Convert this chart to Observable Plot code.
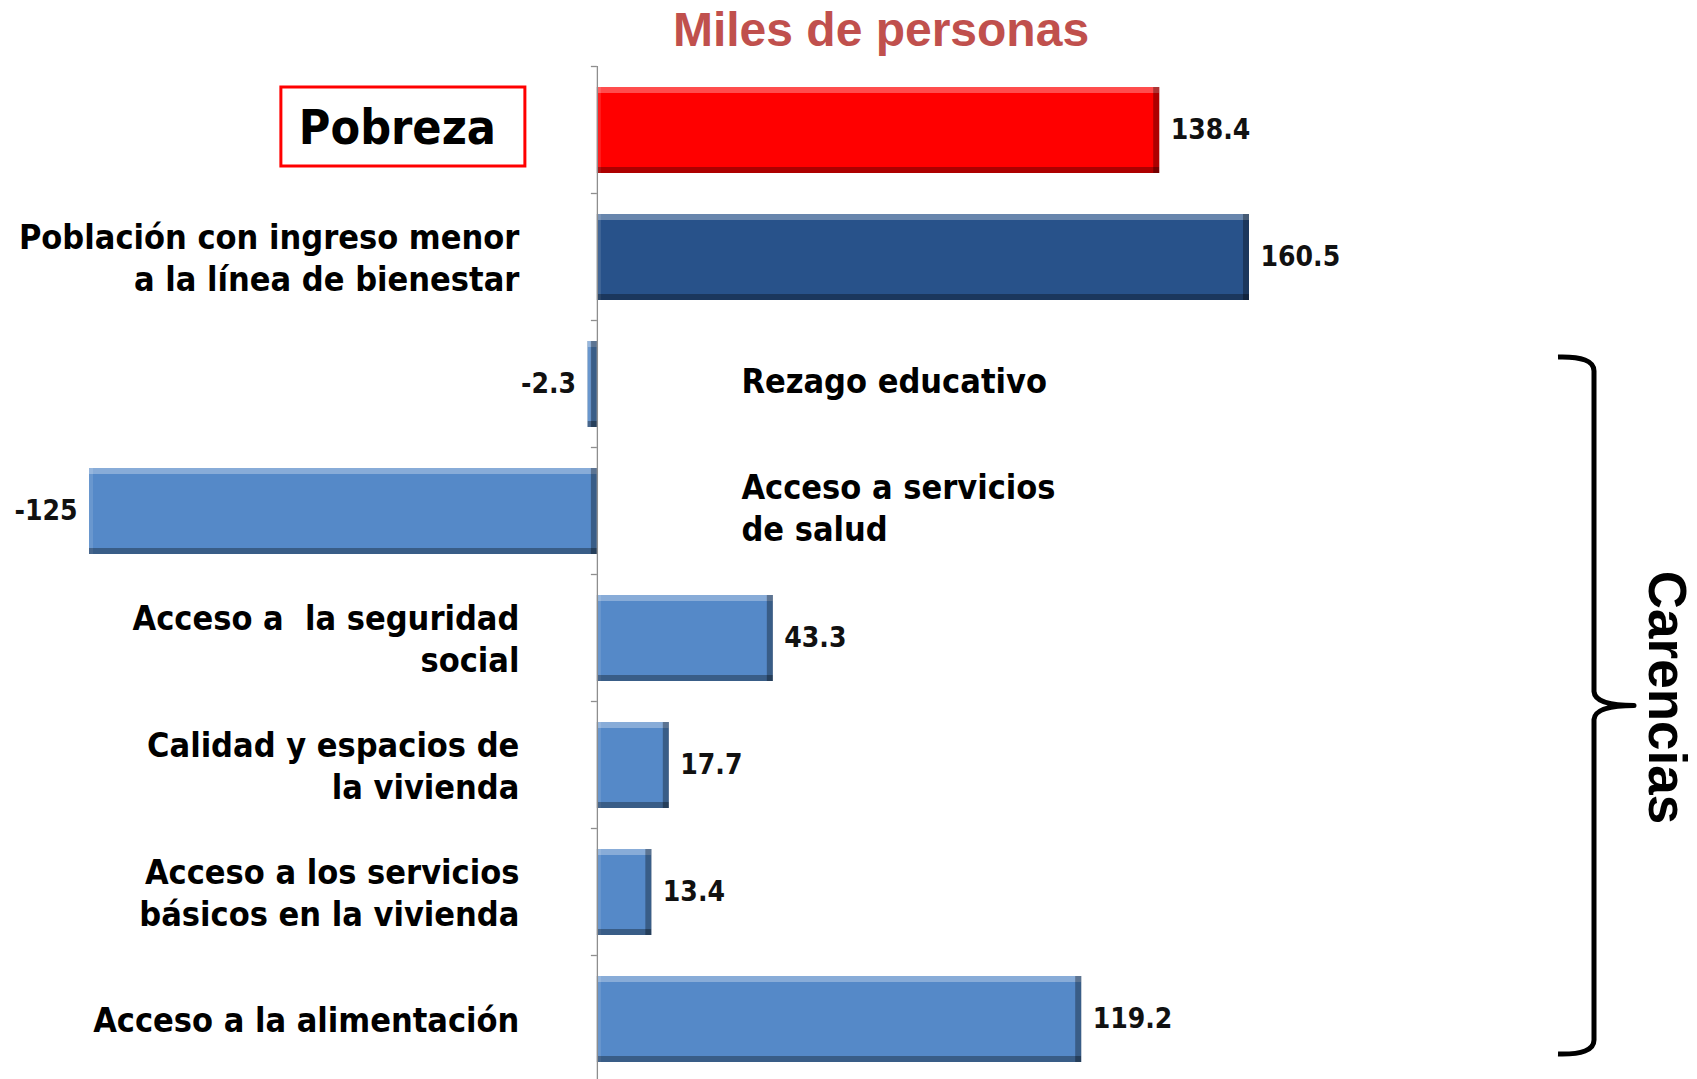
<!DOCTYPE html>
<html>
<head>
<meta charset="utf-8">
<script src="https://cdn.jsdelivr.net/npm/d3@7"></script>
<script src="https://cdn.jsdelivr.net/npm/@observablehq/plot@0.6"></script>
<style>
  html, body { margin: 0; padding: 0; background: #ffffff; overflow: hidden; }
  #chart { position: relative; width: 1697px; height: 1079px; }
  #title {
    position: absolute; left: 0; width: 1762px; top: 6px; margin: 0;
    text-align: center; font-family: "Liberation Sans", Arial, sans-serif;
    font-weight: bold; font-size: 48px; line-height: 48px; color: #c0504d;
  }
  #chart svg { position: absolute; left: 0; top: 0; }
</style>
</head>
<body>
<div id="chart"><div id="title"></div></div>
<script>
// ---- data ----
const titleText = "Miles de personas";
const bracketText = "Carencias";
const categories = [
  "Pobreza",
  "Población con ingreso menor\na la línea de bienestar",
  "Rezago educativo",
  "Acceso a servicios\nde salud",
  "Acceso a  la seguridad\nsocial",
  "Calidad y espacios de\nla vivienda",
  "Acceso a los servicios\nbásicos en la vivienda",
  "Acceso a la alimentación"
];
const values = [138.4, 160.5, -2.3, -125, 43.3, 17.7, 13.4, 119.2];
const valueLabels = ["138.4", "160.5", "-2.3", "-125", "43.3", "17.7", "13.4", "119.2"];
const groups = ["pobreza", "bienestar", "carencia", "carencia", "carencia", "carencia", "carencia", "carencia"];
const groupColors = {pobreza: "#ff0000", bienestar: "#28528a", carencia: "#5589c8"};
const bracketFrom = "Rezago educativo";
const bracketTo = "Acceso a la alimentación";

const data = categories.map((c, i) => ({cat: c, value: values[i], label: valueLabels[i], group: groups[i]}));
const positives = data.filter(d => d.value >= 0);
const negatives = data.filter(d => d.value < 0);

document.getElementById("title").textContent = titleText;

const labelFont = '"DejaVu Sans Condensed", "DejaVu Sans", sans-serif';
const W = 1697, H = 1084;

const plot = Plot.plot({
  width: W,
  height: H,
  marginTop: 66,
  marginBottom: 0,
  marginLeft: 89,
  marginRight: 448,
  style: {background: "transparent", fontFamily: labelFont, fontStretch: "condensed", overflow: "visible"},
  x: {domain: [d3.min(values), d3.max(values)], axis: null},
  y: {domain: categories, axis: null, paddingInner: 0.32, paddingOuter: 0.16},
  color: {domain: Object.keys(groupColors), range: Object.values(groupColors)},
  marks: [
    Plot.barX(data, {y: "cat", x: "value", fill: "group", className: "bars"}),
    Plot.ruleX([0], {stroke: "#8e8e8e", strokeWidth: 1.3}),
    // category labels for positive bars (left of axis)
    Plot.text(positives.filter(d => d.group !== "pobreza"), {
      y: "cat", x: 0, dx: -78, dy: -1, text: "cat", textAnchor: "end", lineAnchor: "middle",
      fontSize: 34, fontWeight: "bold", lineHeight: 1.23, fill: "#000", className: "catlbl"
    }),
    // category labels for negative bars (right of axis)
    Plot.text(negatives, {
      y: "cat", x: 0, dx: 144, dy: -5, text: "cat", textAnchor: "start", lineAnchor: "middle",
      fontSize: 34, fontWeight: "bold", lineHeight: 1.23, fill: "#000", className: "catlbl"
    }),
    // Pobreza highlighted label
    Plot.text(positives.filter(d => d.group === "pobreza"), {
      y: "cat", x: 0, dx: -200, dy: -2, text: "cat", textAnchor: "middle", lineAnchor: "middle",
      fontSize: 48, fontWeight: "bold", fill: "#000", className: "poblbl"
    }),
    // value labels
    Plot.text(positives, {
      y: "cat", x: "value", dx: 11, text: "label", textAnchor: "start", lineAnchor: "middle",
      fontSize: 28, fontWeight: "bold", fill: "#111"
    }),
    Plot.text(negatives, {
      y: "cat", x: "value", dx: -12, text: "label", textAnchor: "end", lineAnchor: "middle",
      fontSize: 28, fontWeight: "bold", fill: "#111"
    })
  ]
});

document.getElementById("chart").appendChild(plot);

const svg = d3.select(plot);
svg.selectAll(".catlbl text").style("white-space", "pre");

// bevel filter
svg.insert("defs", ":first-child").html(`
  <filter id="bevel" x="-2%" y="-2%" width="104%" height="104%" color-interpolation-filters="sRGB">
    <feOffset in="SourceAlpha" dx="0" dy="6" result="offD"/>
    <feComposite in="SourceAlpha" in2="offD" operator="out" result="topEdge"/>
    <feOffset in="SourceAlpha" dx="4" dy="0" result="offR"/>
    <feComposite in="SourceAlpha" in2="offR" operator="out" result="leftEdge"/>
    <feOffset in="SourceAlpha" dx="0" dy="-6" result="offU"/>
    <feComposite in="SourceAlpha" in2="offU" operator="out" result="bottomEdge"/>
    <feOffset in="SourceAlpha" dx="-6" dy="0" result="offL"/>
    <feComposite in="SourceAlpha" in2="offL" operator="out" result="rightEdge"/>
    <feFlood flood-color="#ffffff" flood-opacity="0.30" result="white"/>
    <feComposite in="white" in2="topEdge" operator="in" result="hiTop"/>
    <feFlood flood-color="#ffffff" flood-opacity="0.12" result="white2"/>
    <feComposite in="white2" in2="leftEdge" operator="in" result="hiLeft"/>
    <feFlood flood-color="#000000" flood-opacity="0.32" result="black"/>
    <feComposite in="black" in2="bottomEdge" operator="in" result="shBottom"/>
    <feComposite in="black" in2="rightEdge" operator="in" result="shRight"/>
    <feMerge>
      <feMergeNode in="SourceGraphic"/>
      <feMergeNode in="hiLeft"/>
      <feMergeNode in="hiTop"/>
      <feMergeNode in="shRight"/>
      <feMergeNode in="shBottom"/>
    </feMerge>
  </filter>`);
svg.selectAll(".bars rect").attr("filter", "url(#bevel)");

// axis ticks at band boundaries, from the y scale
const ys = plot.scale("y");
const xs = plot.scale("x");
const half = (ys.step - ys.bandwidth) / 2;
const x0 = xs.apply(0);
const bounds = categories.map(c => ys.apply(c) - half).concat([ys.apply(categories[categories.length - 1]) + ys.bandwidth + half]);
svg.append("g").selectAll("line").data(bounds).join("line")
  .attr("x1", x0 - 6).attr("x2", x0).attr("y1", d => d).attr("y2", d => d)
  .attr("stroke", "#8e8e8e").attr("stroke-width", 1.3);

// Pobreza box
const pTop = ys.apply("Pobreza");
svg.append("rect")
  .attr("x", x0 - 316).attr("y", pTop).attr("width", 244).attr("height", ys.bandwidth - 7)
  .attr("fill", "none").attr("stroke", "#ff0000").attr("stroke-width", 3);

// Carencias bracket
const bTop = ys.apply(bracketFrom) + 16;
const bBot = ys.apply(bracketTo) + ys.bandwidth - 8;
const bMid = (bTop + bBot) / 2;
const bx = 1594;
const path = d3.path();
path.moveTo(bx - 36, bTop);
path.quadraticCurveTo(bx, bTop - 1, bx, bTop + 14);
path.lineTo(bx, bMid - 14);
path.quadraticCurveTo(bx + 1, bMid, bx + 40, bMid);
path.quadraticCurveTo(bx + 1, bMid, bx, bMid + 14);
path.lineTo(bx, bBot - 14);
path.quadraticCurveTo(bx, bBot + 1, bx - 36, bBot);
svg.append("path").attr("d", path.toString())
  .attr("fill", "none").attr("stroke", "#000").attr("stroke-width", 5).attr("stroke-linejoin", "round");

svg.append("text")
  .attr("transform", `translate(1667,${bMid - 8}) rotate(90)`)
  .attr("text-anchor", "middle").attr("dominant-baseline", "central")
  .style("font-family", '"Liberation Sans", Arial, sans-serif').style("font-stretch", "normal")
  .style("font-weight", "bold").style("font-size", "53px").attr("fill", "#000")
  .text(bracketText);
</script>
</body>
</html>
